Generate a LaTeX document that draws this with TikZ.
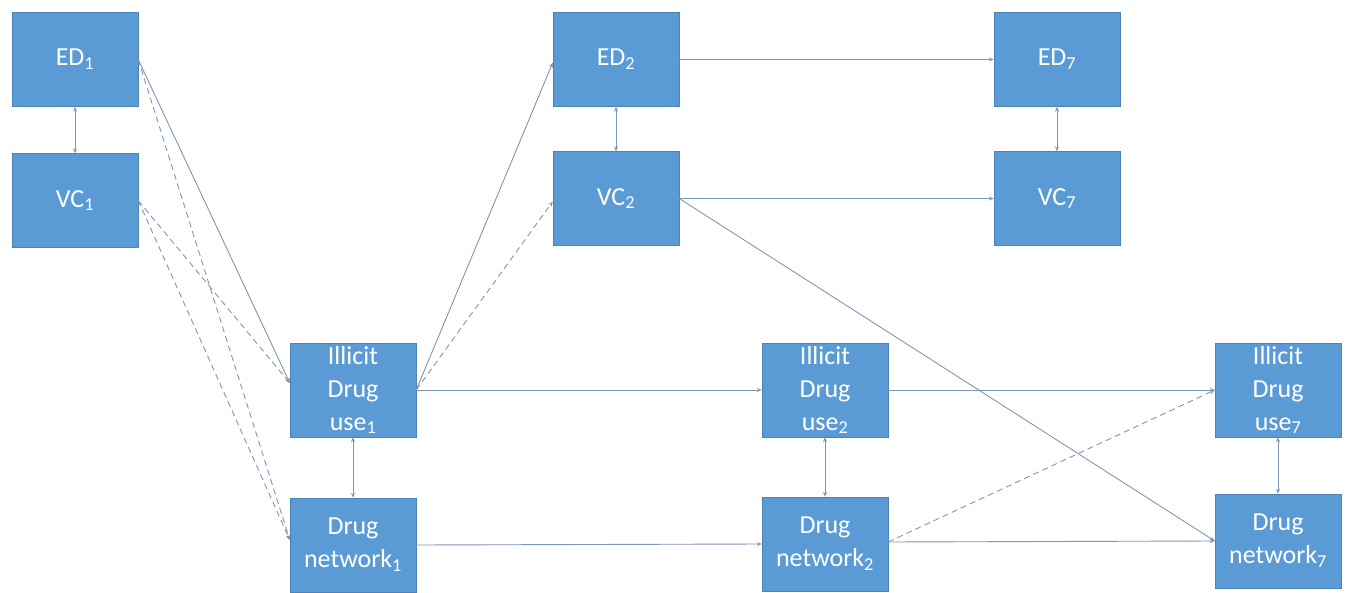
\documentclass[tikz,border=0pt]{standalone}
\usepackage{fontspec}
\setmainfont{Carlito}
\usetikzlibrary{arrows.meta,calc}
\definecolor{boxblue}{HTML}{5B9BD5}
\definecolor{linec}{RGB}{128,150,182}
\begin{document}
\begin{tikzpicture}[x=1pt,y=-1pt,
  box/.style={rectangle, fill=boxblue, draw=boxblue!85!black, line width=0.4pt,
    minimum width=126pt, minimum height=94pt, inner sep=0pt,
    text=white, align=center, font=\fontsize{26}{33}\selectfont},
  conn/.style={draw=linec, line width=0.9pt, -{Stealth[length=5pt,width=4pt]}},
  biconn/.style={draw=linec, line width=0.9pt, {Stealth[length=5pt,width=4pt]}-{Stealth[length=5pt,width=4pt]}},
  dashconn/.style={conn, dash pattern=on 6pt off 4pt}]
\useasboundingbox (0,0) rectangle (1348,593);
\fill[white] (0,0) rectangle (1348,593);

\node[box] (ED1) at (75,59.5) {ED\textsubscript{1}};
\node[box] (VC1) at (75,200.5) {VC\textsubscript{1}};
\node[box] (ED2) at (616,59.5) {ED\textsubscript{2}};
\node[box] (VC2) at (616,198.5) {VC\textsubscript{2}};
\node[box] (ED7) at (1057,59.5) {ED\textsubscript{7}};
\node[box] (VC7) at (1057,198.5) {VC\textsubscript{7}};
\node[box] (IDU1) at (353,390) {Illicit\\Drug\\use\textsubscript{1}};
\node[box] (DN1) at (353,545) {Drug\\network\textsubscript{1}};
\node[box] (IDU2) at (825,390) {Illicit\\Drug\\use\textsubscript{2}};
\node[box] (DN2) at (825,544) {Drug\\network\textsubscript{2}};
\node[box] (IDU7) at (1278,390) {Illicit\\Drug\\use\textsubscript{7}};
\node[box] (DN7) at (1278,541) {Drug\\network\textsubscript{7}};

% vertical bidirectional
\draw[biconn] (ED1) -- (VC1);
\draw[biconn] (ED2) -- (VC2);
\draw[biconn] (ED7) -- (VC7);
\draw[biconn] (IDU1) -- (DN1);
\draw[biconn] (IDU2.south) -- (IDU2.south |- DN2.north);
\draw[biconn] (IDU7) -- (DN7);

% wave 1 -> drug
\draw[conn] (ED1.east) -- ($(IDU1.west)+(0,-7)$);
\draw[dashconn] (ED1.east) -- ($(DN1.west)+(0,-5)$);
\draw[dashconn] (VC1.east) -- ($(IDU1.west)+(0,-7)$);
\draw[dashconn] (VC1.east) -- ($(DN1.west)+(0,-5)$);

% drug1 -> wave 2
\draw[conn] (IDU1.east) -- ($(ED2.west)+(0,3)$);
\draw[dashconn] (IDU1.east) -- ($(VC2.west)+(0,3)$);

% horizontal
\draw[conn] (ED2) -- (ED7);
\draw[conn] (VC2) -- (VC7);
\draw[conn] (IDU1) -- (IDU2);
\draw[conn] (DN1.east) -- (DN2.west);
\draw[conn] (IDU2) -- (IDU7);
\draw[conn] ($(DN2.east)+(0,-2)$) -- (DN7.west);

% diagonals
\draw[conn] (VC2.east) -- (DN7.west);
\draw[dashconn] ($(DN2.east)+(0,-2)$) -- (IDU7.west);
\end{tikzpicture}
\end{document}
